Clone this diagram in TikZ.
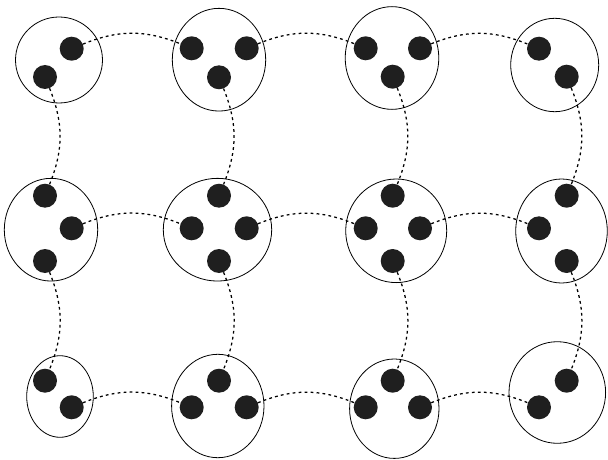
\documentclass[tikz,border=0pt]{standalone}
\usetikzlibrary{shapes.geometric}
\begin{document}
\begin{tikzpicture}[x=1pt,y=-1pt,
  cell/.style={draw, ellipse, line width=0.8pt, inner sep=0pt},
  dot/.style={circle, fill=black!88, inner sep=0pt, minimum size=24pt},
  link/.style={line width=1.25pt, dash pattern=on 2.8pt off 3.2pt, bend left=22}]
\useasboundingbox (0,0) rectangle (608,460);
% cells
\node[cell, minimum width=87pt,   minimum height=86pt]    (e1)  at (59,60) {};
\node[cell, minimum width=93.4pt, minimum height=102.7pt] (e2)  at (219,59.7) {};
\node[cell, minimum width=93.6pt, minimum height=102.7pt] (e3)  at (392,58) {};
\node[cell, minimum width=88pt,   minimum height=93.4pt]  (e4)  at (554.7,65) {};
\node[cell, minimum width=93.4pt, minimum height=102.7pt] (e5)  at (51,229.7) {};
\node[cell, minimum width=108.4pt,minimum height=102.7pt] (e6)  at (217.5,229.7) {};
\node[cell, minimum width=101pt,  minimum height=103.6pt] (e7)  at (396.2,230.8) {};
\node[cell, minimum width=91.6pt, minimum height=104pt]   (e8)  at (561.5,231) {};
\node[cell, minimum width=66.6pt, minimum height=81.6pt]  (e9)  at (60,396.5) {};
\node[cell, minimum width=92.4pt, minimum height=103.4pt] (e10) at (217.8,406) {};
\node[cell, minimum width=89.4pt, minimum height=99.4pt]  (e11) at (394.3,408.7) {};
\node[cell, minimum width=96.6pt, minimum height=101.6pt] (e12) at (557.3,392.5) {};
% dots row 1
\node[dot] (a1r) at (71.7,48.7) {};
\node[dot] (a1b) at (45,77) {};
\node[dot] (a2l) at (191.7,48.3) {};
\node[dot] (a2r) at (246.7,48.3) {};
\node[dot] (a2b) at (219,77.3) {};
\node[dot] (a3l) at (365.7,48.3) {};
\node[dot] (a3r) at (420,48.3) {};
\node[dot] (a3b) at (392.7,76.7) {};
\node[dot] (a4l) at (539,48.7) {};
\node[dot] (a4b) at (566.7,76.7) {};
% dots row 2
\node[dot] (b1t) at (45,195.7) {};
\node[dot] (b1r) at (71.7,228.3) {};
\node[dot] (b1b) at (45,261) {};
\node[dot] (b2t) at (219,195.7) {};
\node[dot] (b2l) at (191.7,228.3) {};
\node[dot] (b2r) at (246.7,228.3) {};
\node[dot] (b2b) at (219,261) {};
\node[dot] (b3t) at (392.7,195.7) {};
\node[dot] (b3l) at (365.7,228.3) {};
\node[dot] (b3r) at (420,228.3) {};
\node[dot] (b3b) at (392.7,261) {};
\node[dot] (b4t) at (566.7,195.7) {};
\node[dot] (b4l) at (539,228.3) {};
\node[dot] (b4b) at (566.7,261) {};
% dots row 3
\node[dot] (c1t) at (45,380.7) {};
\node[dot] (c1r) at (71.7,407.3) {};
\node[dot] (c2t) at (219,380.7) {};
\node[dot] (c2l) at (191.7,407.3) {};
\node[dot] (c2r) at (246.7,407.3) {};
\node[dot] (c3t) at (392.7,380.7) {};
\node[dot] (c3l) at (365.7,407.3) {};
\node[dot] (c3r) at (420,407.3) {};
\node[dot] (c4t) at (566.7,380.7) {};
\node[dot] (c4l) at (539,407.3) {};
% horizontal links
\draw[link] (a1r) to (a2l);
\draw[link] (a2r) to (a3l);
\draw[link] (a3r) to (a4l);
\draw[link] (b1r) to (b2l);
\draw[link] (b2r) to (b3l);
\draw[link] (b3r) to (b4l);
\draw[link] (c1r) to (c2l);
\draw[link] (c2r) to (c3l);
\draw[link] (c3r) to (c4l);
% vertical links
\draw[link] (a1b) to (b1t);
\draw[link] (a2b) to (b2t);
\draw[link] (a3b) to (b3t);
\draw[link] (a4b) to (b4t);
\draw[link] (b1b) to (c1t);
\draw[link] (b2b) to (c2t);
\draw[link] (b3b) to (c3t);
\draw[link] (b4b) to (c4t);
\end{tikzpicture}
\end{document}
